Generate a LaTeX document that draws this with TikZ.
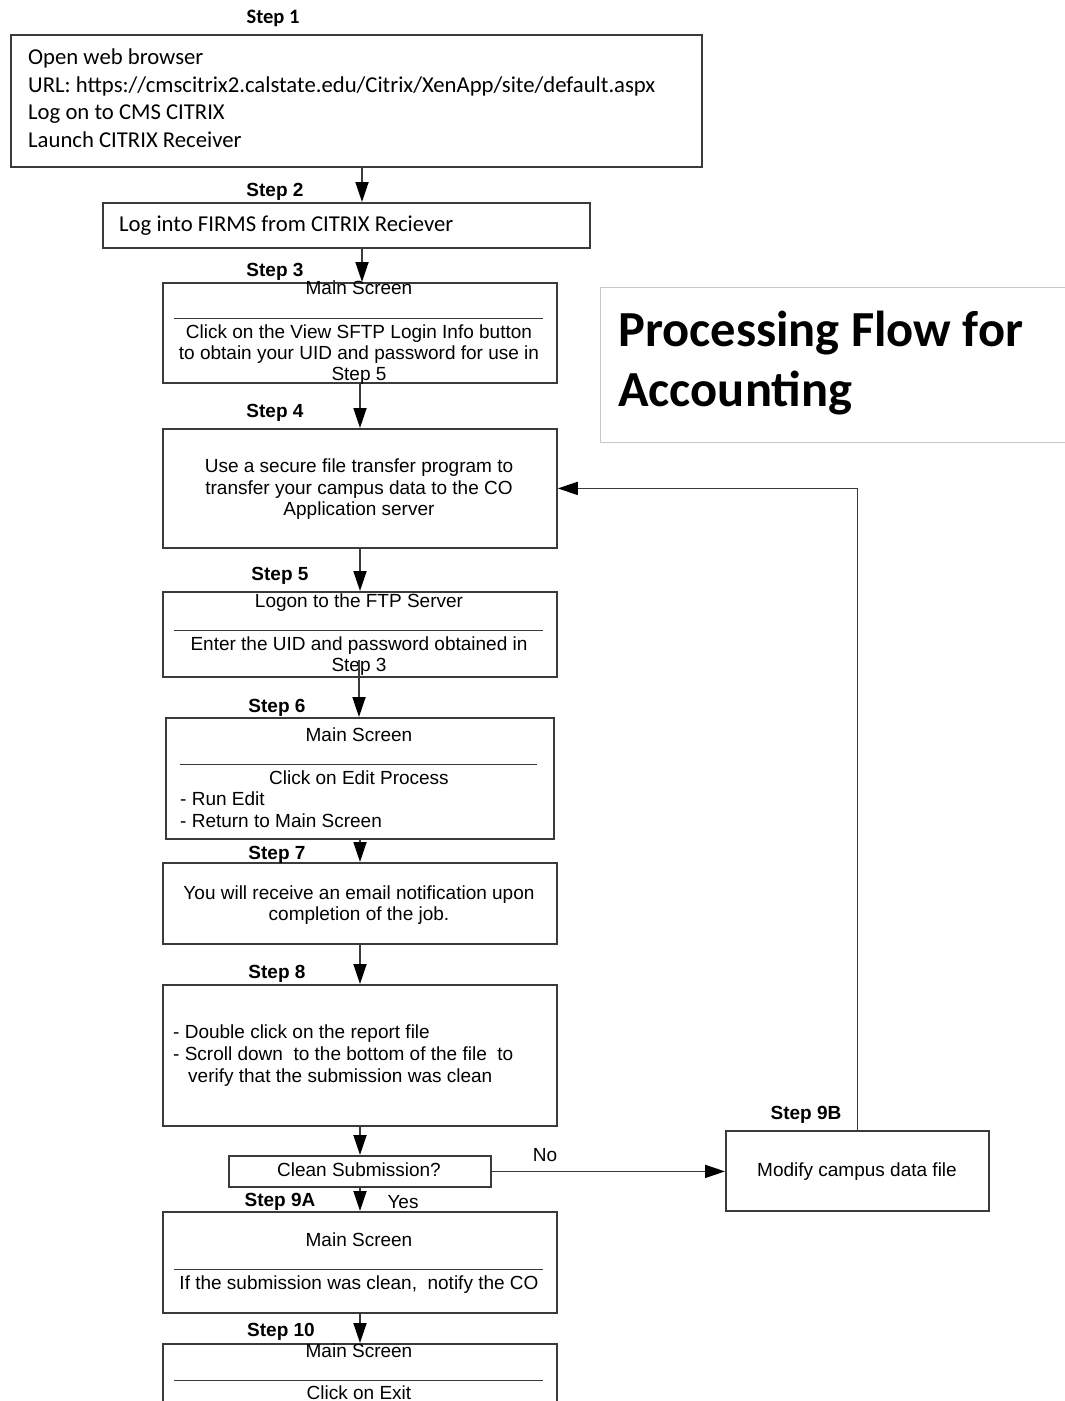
\documentclass[tikz,border=0pt]{standalone}
\usepackage{fontspec}
\setmainfont{Liberation Sans}
\newfontfamily\calib{Carlito}
\usetikzlibrary{arrows.meta}
\definecolor{boxline}{HTML}{3A3A3A}
\definecolor{titleline}{HTML}{C8C8C8}
\begin{document}
\begin{tikzpicture}[x=1pt,y=-1pt,
  box/.style={draw=boxline, line width=1.8pt, anchor=north west, inner sep=0pt},
  arr/.style={draw=boxline, line width=1.8pt, -{Triangle[length=20pt,width=13pt,color=black]}},
  txt/.style={font=\fontsize{19}{21}\selectfont, anchor=base, inner sep=0pt},
  ltxt/.style={txt, anchor=base west},
  ctxt/.style={font=\calib\fontsize{22.7}{27}\selectfont, anchor=base west, inner sep=0pt},
  steplbl/.style={font=\fontsize{19}{21}\selectfont\bfseries, anchor=base, inner sep=0pt},
  sep/.style={draw=boxline, line width=1pt}]
\useasboundingbox (0,0) rectangle (1065,1401);
\clip (0,0) rectangle (1065,1401);

% ---- boxes ----
\node[box, minimum width=691, minimum height=132] (s1) at (10,34) {};
\node[box, minimum width=487, minimum height=45]  (s2) at (102,202) {};
\node[box, minimum width=394, minimum height=100] (s3) at (162,282) {};
\node[box, minimum width=394, minimum height=119] (s4) at (162,428) {};
\node[box, minimum width=394, minimum height=85]  (s5) at (162,591) {};
\node[box, minimum width=388, minimum height=121] (s6) at (165,717) {};
\node[box, minimum width=394, minimum height=81]  (s7) at (162,862) {};
\node[box, minimum width=394, minimum height=141] (s8) at (162,984) {};
\node[box, minimum width=262, minimum height=31]  (dec) at (228,1155) {};
\node[box, minimum width=263, minimum height=80]  (s9b) at (725,1130) {};
\node[box, minimum width=394, minimum height=101] (s9a) at (162,1211) {};
\node[box, minimum width=394, minimum height=80]  (s10) at (162,1343) {};

% ---- title ----
\node[draw=titleline, line width=0.9pt, anchor=north west, minimum width=480, minimum height=155, inner sep=0pt] (tbox) at (600,287) {};
\node[font=\calib\bfseries\fontsize{50.5}{60}\selectfont, anchor=base west, inner sep=0pt] (t1) at (618,346) {Processing Flow for};
\node[font=\calib\bfseries\fontsize{50.5}{60}\selectfont, anchor=base west, inner sep=0pt] (t2) at (618,406) {Accounting};

% ---- step labels ----
\node[font=\calib\bfseries\fontsize{20.5}{24}\selectfont, anchor=base, inner sep=0pt] (l1) at (273,23) {Step 1};
\node[steplbl] (l2) at (275,196) {Step 2};
\node[steplbl] (l3) at (275,276) {Step 3};
\node[steplbl] (l4) at (275,417) {Step 4};
\node[steplbl] (l5) at (280,580) {Step 5};
\node[steplbl] (l6) at (277,712) {Step 6};
\node[steplbl] (l7) at (277,859) {Step 7};
\node[steplbl] (l8) at (277,978) {Step 8};
\node[steplbl] (l9a) at (280,1206) {Step 9A};
\node[steplbl] (l9b) at (806,1119) {Step 9B};
\node[steplbl] (l10) at (281,1336) {Step 10};

% ---- step 1 ----
\node[ctxt] (s1a) at (28,64) {Open web browser};
\node[ctxt] (s1b) at (28,92) {URL: https://cmscitrix2.calstate.edu/Citrix/XenApp/site/default.aspx};
\node[ctxt] (s1c) at (28,119) {Log on to CMS CITRIX};
\node[ctxt] (s1d) at (28,147) {Launch CITRIX Receiver};

% ---- step 2 ----
\node[ctxt] (s2a) at (119,231) {Log into FIRMS from CITRIX Reciever};

% ---- step 3 ----
\node[txt] (s3a) at (359,294) {Main Screen};
\draw[sep] (174,318) -- (543,318);
\node[txt] (s3b) at (359,338) {Click on the View SFTP Login Info button};
\node[txt] (s3c) at (359,359) {to obtain your UID and password for use in};
\node[txt] (s3d) at (359,380) {Step 5};

% ---- step 4 ----
\node[txt] (s4a) at (359,472) {Use a secure file transfer program to};
\node[txt] (s4b) at (359,494) {transfer your campus data to the CO};
\node[txt] (s4c) at (359,515) {Application server};

% ---- step 5 ----
\node[txt] (s5a) at (359,607) {Logon to the FTP Server};
\draw[sep] (174,630) -- (543,630);
\node[txt] (s5b) at (359,650) {Enter the UID and password obtained in};
\node[txt] (s5c) at (359,671) {Step 3};

% ---- step 6 ----
\node[txt] (s6a) at (359,741) {Main Screen};
\draw[sep] (180,764) -- (537,764);
\node[txt] (s6b) at (359,784) {Click on Edit Process};
\node[ltxt] (s6c) at (180,805) {- Run Edit};
\node[ltxt] (s6d) at (180,827) {- Return to Main Screen};

% ---- step 7 ----
\node[txt] (s7a) at (359,899) {You will receive an email notification upon};
\node[txt] (s7b) at (359,920) {completion of the job.};

% ---- step 8 ----
\node[ltxt] (s8a) at (173,1038) {- Double click on the report file};
\node[ltxt] (s8b) at (173,1060) {- Scroll down\ \ to the bottom of the file\ \ to};
\node[ltxt] (s8c) at (188,1082) {verify that the submission was clean};

% ---- decision and branches ----
\node[txt] (deca) at (359,1176) {Clean Submission?};
\node[txt] (s9ba) at (857,1176) {Modify campus data file};
\node[txt] (no) at (545,1161) {No};
\node[txt] (yes) at (403,1208) {Yes};

% ---- step 9A ----
\node[txt] (s9aa) at (359,1246) {Main Screen};
\draw[sep] (174,1269) -- (543,1269);
\node[txt] (s9ab) at (359,1289) {If the submission was clean,\ \ notify the CO};

% ---- step 10 ----
\node[txt] (s10a) at (359,1357) {Main Screen};
\draw[sep] (174,1380) -- (543,1380);
\node[txt] (s10b) at (359,1399) {Click on Exit};

% ---- connectors ----
\coordinate (c5) at (359,660);
\draw[arr] (s1.south -| 362,0) -- (s2.north -| 362,0);
\draw[arr] (s2.south -| 362,0) -- (s3.north -| 362,0);
\draw[arr] (s3.south -| 360,0) -- (s4.north -| 360,0);
\draw[arr] (s4.south -| 360,0) -- (s5.north -| 360,0);
\draw[arr] (c5) -- (s6.north -| c5);
\draw[arr] (s6.south -| 360,0) -- (s7.north -| 360,0);
\draw[arr] (s7.south -| 360,0) -- (s8.north -| 360,0);
\draw[arr] (s8.south -| 360,0) -- (dec.north -| 360,0);
\draw[arr] (dec.south -| 360,0) -- (s9a.north -| 360,0);
\draw[arr] (s9a.south -| 360,0) -- (s10.north -| 360,0);
\draw[arr] (dec.east) -- (dec.east -| s9b.west);
\draw[arr] (s9b.north) |- (s4.east);
\end{tikzpicture}
\end{document}
